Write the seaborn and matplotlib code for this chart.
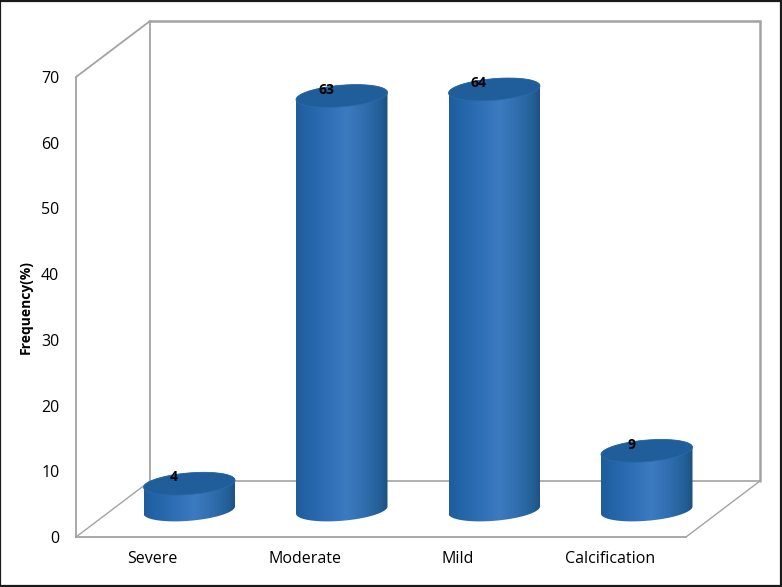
import numpy as np
import pandas as pd
import matplotlib
matplotlib.use("Agg")
import matplotlib.pyplot as plt
from matplotlib.colors import LinearSegmentedColormap
from matplotlib.patches import Polygon, Rectangle
import seaborn as sns

categories = ['Severe', 'Moderate', 'Mild', 'Calcification']
frequency = [4, 63, 64, 9]
y_ticks = [0, 10, 20, 30, 40, 50, 60, 70]

W, H = 782, 587
GREY = '#a3a3a3'

sns.set_theme(style='white')
plt.rcParams['font.family'] = ['Open Sans', 'DejaVu Sans']

fig = plt.figure(figsize=(W / 100, H / 100), dpi=100)


def px_axes(left, bottom_y, width, height):
    return fig.add_axes([left / W, (H - bottom_y) / H, width / W, height / H])


# front plane holds the tick labels, bars sit in a plane pushed back into the box
ax = px_axes(76, 537, 610, 460)
ax_bars = px_axes(113, 510, 610, 460)

ax.set_xlim(-0.5, 3.5)
ax.set_ylim(0, 70)
ax.set_xticks(range(len(categories)))
ax.set_xticklabels(categories)
ax.set_yticks(y_ticks)
ax.tick_params(axis='both', length=0, labelsize=11.5, labelcolor='black')
ax.tick_params(axis='x', pad=10)
ax.tick_params(axis='y', pad=12)
ax.set_ylabel('Frequency(%)', fontsize=10, fontweight='bold', color='black', labelpad=6)
ax.patch.set_visible(False)
sns.despine(ax=ax, top=True, right=True)
for s in ['left', 'bottom']:
    ax.spines[s].set_color(GREY)
    ax.spines[s].set_linewidth(1.3)

# box walls and floor
dx, dy = 74 / 610, 56 / 460
walls = [
    ([0, dx], [0, dy], 1.0),
    ([1, 1 + dx], [0, dy], 1.0),
    ([dx, 1 + dx], [dy, dy], 1.2),
    ([dx, dx], [dy, 1 + dy], 1.3),
    ([dx, 1 + dx], [1 + dy, 1 + dy], 1.8),
    ([1 + dx, 1 + dx], [dy, 1 + dy], 1.8),
    ([0, dx], [1, 1 + dy], 1.3),
]
for xs, ys, lw in walls:
    ax.plot(xs, ys, color=GREY, lw=lw, transform=ax.transAxes, clip_on=False, zorder=1)

# bars
df = pd.DataFrame({'category': categories, 'frequency': frequency})
sns.barplot(data=df, x='category', y='frequency', ax=ax_bars, width=0.6, color='#2f6fb5')
ax_bars.set_xlim(-0.5, 3.5)
ax_bars.set_ylim(0, 70)
ax_bars.axis('off')
ax_bars.patch.set_visible(False)

body_cmap = LinearSegmentedColormap.from_list('body', [
    (0.0, '#1f5c99'), (0.1, '#2263a6'), (0.35, '#2f6fb6'), (0.55, '#3d7bc0'),
    (0.75, '#2f6dae'), (0.92, '#235f96'), (1.0, '#1c507f')])
gradient = np.linspace(0, 1, 256).reshape(1, -1)

ry = 10.8 / 6.571
tilt = 0.55


def arc(xc, yc, rx, t0, t1):
    t = np.linspace(t0, t1, 80)
    return np.column_stack([xc + rx * np.cos(t), yc + ry * np.sin(t) + tilt * np.cos(t)])


for p, value in zip(ax_bars.patches, frequency):
    rx = p.get_width() / 2
    xc = p.get_x() + rx
    top = p.get_height()
    p.set_visible(False)

    body = Polygon(np.vstack([arc(xc, 0, rx, np.pi, 2 * np.pi), arc(xc, top, rx, 0, np.pi)]),
                   closed=True, transform=ax_bars.transData, facecolor='none', edgecolor='none')
    ax_bars.add_patch(body)
    im = ax_bars.imshow(gradient, extent=[xc - rx, xc + rx, -3, top + 3], aspect='auto',
                        cmap=body_cmap, zorder=3)
    im.set_clip_path(body)
    im.set_clip_box(fig.bbox)
    ax_bars.add_patch(Polygon(arc(xc, top, rx, 0, 2 * np.pi), closed=True, facecolor='#1f5e9b',
                              edgecolor='#2a6aa5', lw=0.6, zorder=4))
    ax_bars.annotate(str(value), (xc, top), xytext=(-11, 4.5), textcoords='offset points',
                     ha='center', va='center', fontsize=10, fontweight='bold', color='black', zorder=5)

ax_bars.set_xlim(-0.5, 3.5)
ax_bars.set_ylim(0, 70)

# dark image border
fig.add_artist(Rectangle((0, 1.5 / H), 1 - 1.5 / W, 1 - 2 / H, transform=fig.transFigure,
                         fill=False, edgecolor='#1a1a1a', lw=1.6))

fig.savefig('out.png', dpi=100)
